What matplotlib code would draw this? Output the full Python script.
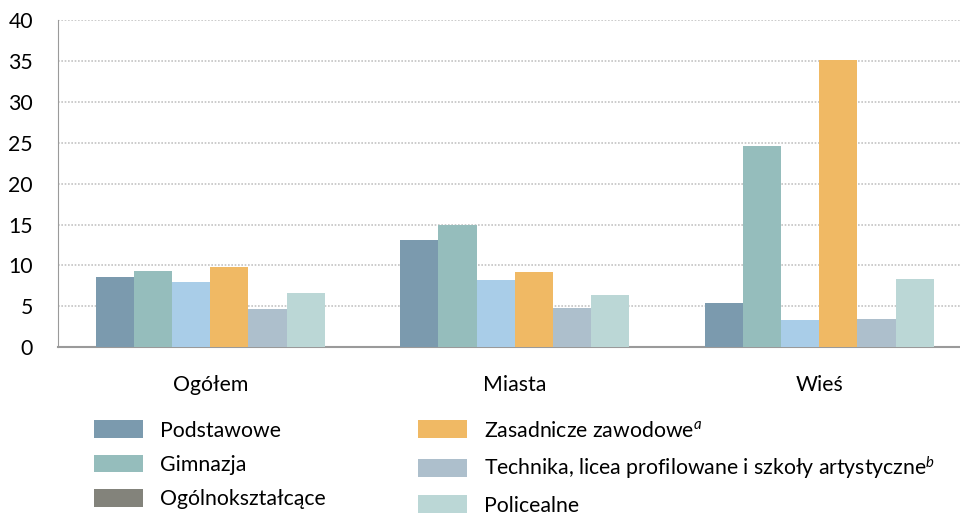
import matplotlib.pyplot as plt
import numpy as np
from matplotlib.patches import Patch

plt.rcParams['font.family'] = ['Lato', 'DejaVu Sans']
plt.rcParams['mathtext.fontset'] = 'custom'
plt.rcParams['mathtext.it'] = 'Lato:italic'
plt.rcParams['mathtext.rm'] = 'Lato'

# data
groups = ['Ogółem', 'Miasta', 'Wieś']
series = ['Podstawowe', 'Gimnazja', 'Ogólnokształcące',
          'Zasadnicze zawodowe$^{\\mathit{a}}$',
          'Technika, licea profilowane i szkoły artystyczne$^{\\mathit{b}}$',
          'Policealne']
podstawowe = [8.6, 13.1, 5.4]
gimnazja = [9.3, 15.0, 24.6]
ogolnoksztalcace = [8.0, 8.2, 3.3]
zasadnicze = [9.8, 9.2, 35.2]
technika = [4.6, 4.8, 3.4]
policealne = [6.6, 6.4, 8.3]
values = [podstawowe, gimnazja, ogolnoksztalcace, zasadnicze, technika, policealne]

bar_colors = ['#7b9aae', '#95bdbc', '#a9cde8', '#f0b964', '#adbfcc', '#bbd7d6']
# the legend swatch for Ogólnokształcące is grey in the original
legend_colors = ['#7b9aae', '#95bdbc', '#83837b', '#f0b964', '#adbfcc', '#bbd7d6']

fig = plt.figure(figsize=(9.6, 5.16), dpi=100)
# plot area runs a bit past the right edge of the picture, as in the original
ax = fig.add_axes([0.0604, 0.3275, 0.9516, 0.6328])

x = np.arange(len(groups))
gw = 0.752
w = gw / 6
for i, vals in enumerate(values):
    ax.bar(x - gw / 2 + w * (i + 0.5), vals, width=w, color=bar_colors[i], zorder=3)

ax.set_xlim(-0.5, 2.5)
ax.set_ylim(0, 40)
ax.set_yticks(range(0, 41, 5))
ax.set_xticks(x)
ax.set_xticklabels(groups)
ax.tick_params(axis='both', length=0, labelsize=15.3, colors='#000000')
ax.tick_params(axis='y', pad=18)
ax.tick_params(axis='x', pad=20)
ax.yaxis.grid(True, linestyle=(0, (1, 1)), color='#c4c4c4', linewidth=1.2, zorder=0)
for s in ['top', 'right']:
    ax.spines[s].set_visible(False)
ax.spines['left'].set_color('#9a9a9a')
ax.spines['bottom'].set_color('#9a9a9a')
ax.spines['bottom'].set_linewidth(1.5)

handles = [Patch(facecolor=c, edgecolor='none') for c in legend_colors]
fig.legend(handles, series, ncol=2, loc='upper left', bbox_to_anchor=(0.089, 0.202),
           frameon=False, fontsize=15.3, handlelength=2.3, handleheight=0.92,
           handletextpad=0.8, columnspacing=4.35, labelspacing=0.66, borderaxespad=0)

fig.savefig('out.png', dpi=100)
